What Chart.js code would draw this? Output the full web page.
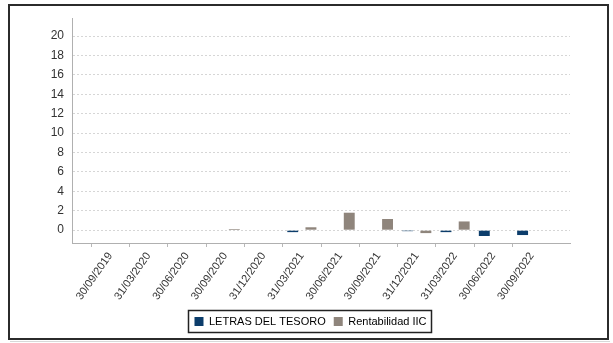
<!DOCTYPE html>
<html>
<head>
<meta charset="utf-8">
<style>
  html, body { margin: 0; padding: 0; background: #ffffff; }
  #wrap { width: 613px; height: 343px; position: relative; }
</style>
<script src="https://cdn.jsdelivr.net/npm/chart.js@4.4.1/dist/chart.umd.min.js"></script>
</head>
<body>
<div id="wrap"><canvas id="chart" width="613" height="343"></canvas></div>
<script>
// Quarter-end dates (blank slots pad the axis on both sides)
const periods = ['', '30/09/2019', '31/03/2020', '30/06/2020', '30/09/2020', '31/12/2020',
  '31/03/2021', '30/06/2021', '30/09/2021', '31/12/2021', '31/03/2022',
  '30/06/2022', '30/09/2022', ''];

// Quarterly returns, %
const letrasTesoro = [null, null, null, null, 0, -0.05, -0.2, -0.05, -0.05, -0.1, -0.2, -0.6, -0.5, null];
const rentabilidadIIC = [null, null, null, null, 0.12, 0, 0.3, 1.8, 1.15, -0.3, 0.9, -0.05, 0, null];

const seriesNames = ['LETRAS DEL TESORO', 'Rentabilidad IIC'];
const seriesColors = ['#0c3d6b', '#8f857c'];

const yTicks = [0, 2, 4, 6, 8, 10, 12, 14, 16, 18, 20];

// White background and the outer frame
const framePlugin = {
  id: 'frame',
  beforeDraw(chart) {
    const ctx = chart.ctx;
    ctx.save();
    ctx.fillStyle = '#ffffff';
    ctx.fillRect(0, 0, chart.width, chart.height);
    ctx.restore();
  },
  afterDraw(chart) {
    const ctx = chart.ctx;
    ctx.save();
    ctx.strokeStyle = '#2b2b2b';
    ctx.lineWidth = 2;
    ctx.strokeRect(9, 5, 599, 334);
    ctx.strokeStyle = '#d8d8d8';
    ctx.lineWidth = 1;
    ctx.beginPath();
    ctx.moveTo(10, 341.5);
    ctx.lineTo(610, 341.5);
    ctx.stroke();
    ctx.restore();
  }
};

// Centre the legend on the page and frame its items
const legendBoxPlugin = {
  id: 'legendBox',
  afterLayout(chart) {
    const lg = chart.legend;
    if (!lg) return;
    const shift = chart.width / 2 - (lg.left + lg.right) / 2 + 4;
    lg.left += shift;
    lg.right += shift;
  },
  afterDraw(chart) {
    const boxes = chart.legend && chart.legend.legendHitBoxes;
    if (!boxes || !boxes.length) return;
    let l = Infinity, r = -Infinity, t = Infinity, b = -Infinity;
    boxes.forEach(h => {
      l = Math.min(l, h.left); r = Math.max(r, h.left + h.width);
      t = Math.min(t, h.top); b = Math.max(b, h.top + h.height);
    });
    const ctx = chart.ctx;
    ctx.save();
    ctx.strokeStyle = '#222222';
    ctx.lineWidth = 1.5;
    ctx.strokeRect(Math.round(l) - 5.5, Math.round(t) - 5.5, Math.round(r - l) + 11, Math.round(b - t) + 11);
    ctx.restore();
  }
};

new Chart(document.getElementById('chart'), {
  type: 'bar',
  data: {
    labels: periods,
    datasets: [
      { label: seriesNames[0], data: letrasTesoro, backgroundColor: seriesColors[0] },
      { label: seriesNames[1], data: rentabilidadIIC, backgroundColor: seriesColors[1] }
    ]
  },
  plugins: [framePlugin, legendBoxPlugin],
  options: {
    responsive: false,
    animation: false,
    devicePixelRatio: 1,
    layout: { padding: { top: 18, left: 8, right: 43, bottom: 6 } },
    datasets: { bar: { categoryPercentage: 0.95, barPercentage: 0.6 } },
    plugins: {
      tooltip: { enabled: false },
      legend: {
        position: 'bottom',
        labels: {
          color: '#000000',
          font: { family: 'Liberation Sans, Arial, sans-serif', size: 11 },
          boxWidth: 9,
          boxHeight: 9,
          padding: 8
        }
      }
    },
    scales: {
      x: {
        offset: false,
        afterFit(scale) { scale.height = 65; },
        border: { display: true, color: '#b0b0b0', width: 1 },
        grid: {
          drawOnChartArea: false,
          drawTicks: true,
          tickLength: 4,
          color: ctx => (ctx.index === 0 || ctx.index === periods.length - 1) ? 'rgba(0,0,0,0)' : '#b8b8b8'
        },
        ticks: {
          autoSkip: false,
          minRotation: 55,
          maxRotation: 55,
          padding: 3,
          color: '#333333',
          font: { family: 'Liberation Sans, Arial, sans-serif', size: 11 }
        }
      },
      y: {
        min: -1.32,
        max: 21.86,
        afterFit(scale) { scale.width = 64; },
        afterBuildTicks(scale) { scale.ticks = yTicks.map(v => ({ value: v })); },
        border: { display: true, color: '#b0b0b0', width: 1, dash: [2, 2] },
        grid: {
          color: '#d6d6d6',
          drawTicks: false
        },
        ticks: {
          padding: 8,
          color: '#333333',
          font: { family: 'Liberation Sans, Arial, sans-serif', size: 12 }
        }
      }
    }
  }
});
</script>
</body>
</html>
